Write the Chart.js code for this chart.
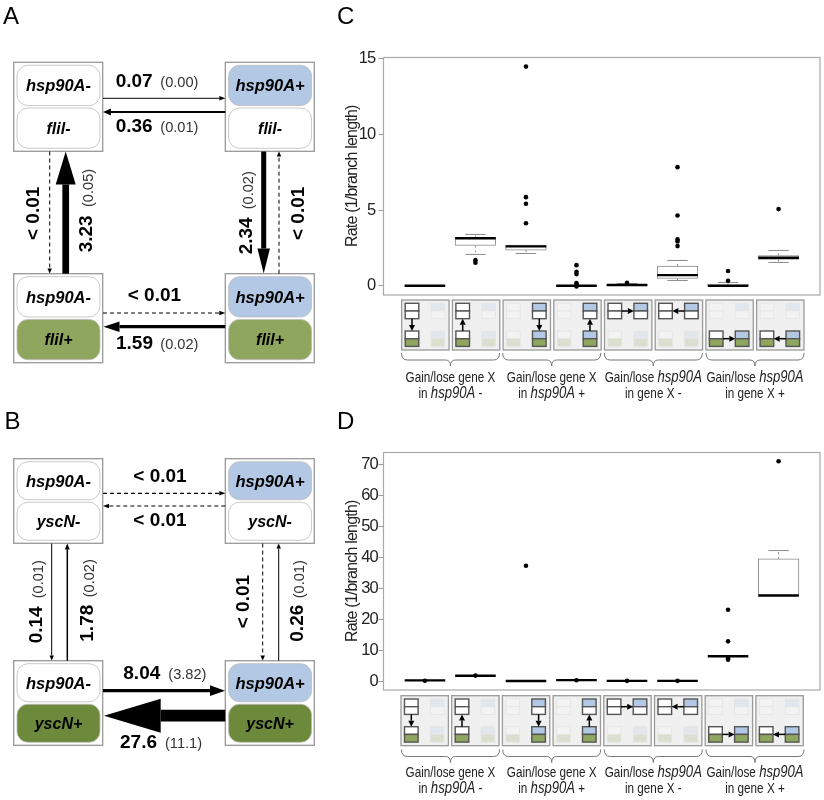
<!DOCTYPE html>
<html>
<head>
<meta charset="utf-8">
<title>Gene gain and loss rates</title>
<script src="https://cdn.jsdelivr.net/npm/chart.js@4/dist/chart.umd.min.js"></script>
<style>
    html, body { margin: 0; padding: 0; background: #fff; }
    #page { position: relative; width: 824px; height: 800px; overflow: hidden; }
    #page canvas { position: absolute; }
    #graphC { left: 330px; top: 50px; }
    #graphD { left: 330px; top: 445px; }
    #draw { position: absolute; left: 0; top: 0; pointer-events: none; }
</style>
</head>
<body>
<div id="page">
    <canvas id="graphC" width="494" height="250" style="width:494px;height:250px"></canvas>
    <canvas id="graphD" width="494" height="250" style="width:494px;height:250px"></canvas>
    <svg id="draw" width="824" height="800" xmlns="http://www.w3.org/2000/svg"></svg>
</div>
<script>
const categories = [1, 2, 3, 4, 5, 6, 7, 8];

// panel C
const ticksC = [0, 5, 10, 15];
const q1C = [0, 2.66, 2.35, 0, 0.03, 0.48, 0, 1.74];
const medC = [0, 3.14, 2.6, 0, 0.05, 0.7, 0, 1.85];
const q3C = [0, 3.19, 2.68, 0.03, 0.1, 1.3, 0.09, 2.0];
const lowC = [null, 2.07, 2.13, null, null, 0.35, null, 1.54];
const highC = [null, 3.39, null, null, 0.15, 1.67, 0.22, 2.33];
const outC = [
    [],
    [1.69, 1.52],
    [14.47, 5.85, 5.41, 4.13],
    [1.36, 0.92, 0.77, 0.18, 0.09, -0.05],
    [0.2],
    [7.83, 4.64, 3.06, 2.93, 2.62],
    [0.97, 0.33],
    [5.06]
];

// panel D
const ticksD = [0, 10, 20, 30, 40, 50, 60, 70];
const q1D = [0.2, 1.72, 0, 0.3, 0.05, 0.05, 8, 27.6];
const medD = [0.2, 1.72, 0, 0.3, 0.05, 0.05, 8, 27.6];
const q3D = [0.2, 1.72, 0, 0.3, 0.05, 0.05, 8, 39.4];
const lowD = [null, null, null, null, null, null, null, null];
const highD = [null, null, null, null, null, null, null, 42.1];
const outD = [
    [0.1],
    [1.75],
    [37.2],
    [0.25],
    [0.05],
    [0.05],
    [23, 12.8, 7.3, 6.9],
    [70.9]
];

const groupTitles = ["Gain/lose gene X", "Gain/lose gene X", "Gain/lose ", "Gain/lose "];

const SANS = '"Liberation Sans", Arial, sans-serif';

// frame around the plot, and tighter letters as the reference font is condensed
const plotBox = {
    id: 'plotBox',
    beforeDraw(chart) {
        chart.ctx.letterSpacing = '-0.8px';
    },
    afterDatasetsDraw(chart) {
        const a = chart.chartArea;
        const c = chart.ctx;
        c.save();
        c.strokeStyle = '#a9a9a9';
        c.lineWidth = 1.2;
        c.strokeRect(a.left, a.top, a.right - a.left, a.bottom - a.top);
        c.restore();
    }
};

function mkBoxChart(id, q1, med, q3, low, high, out, ticks, yMin, yMax, tickPad) {
    const whiskers = [];
    const caps = [];
    for (let i = 0; i < categories.length; i++) {
        const x = categories[i];
        if (high[i] !== null) {
            whiskers.push({x: x, y: q3[i]}, {x: x, y: high[i]}, {x: x, y: null});
            caps.push({x: x, y: high[i]});
        }
        if (low[i] !== null) {
            whiskers.push({x: x, y: q1[i]}, {x: x, y: low[i]}, {x: x, y: null});
            caps.push({x: x, y: low[i]});
        }
    }
    const points = [];
    for (let i = 0; i < categories.length; i++) {
        for (let k = 0; k < out[i].length; k++) {
            points.push({x: categories[i], y: out[i][k]});
        }
    }

    new Chart(document.getElementById(id), {
        type: 'bar',
        data: {
            datasets: [
                {
                    type: 'scatter',
                    data: points,
                    pointRadius: 2.3,
                    pointBackgroundColor: '#000',
                    pointBorderColor: '#000',
                    pointBorderWidth: 0
                },
                {
                    type: 'scatter',
                    data: categories.map((x, i) => ({x: x, y: med[i]})),
                    pointStyle: 'line',
                    pointRadius: 20.3,
                    pointBorderColor: '#000',
                    pointBorderWidth: 2.4
                },
                {
                    type: 'scatter',
                    data: caps,
                    pointStyle: 'line',
                    pointRadius: 10.2,
                    pointBorderColor: '#8a8a8a',
                    pointBorderWidth: 1
                },
                {
                    type: 'scatter',
                    data: whiskers,
                    showLine: true,
                    spanGaps: false,
                    pointRadius: 0,
                    borderColor: '#8a8a8a',
                    borderWidth: 1,
                    borderDash: [2, 3]
                },
                {
                    type: 'bar',
                    data: categories.map((x, i) => ({x: x, y: [q1[i], q3[i]]})),
                    barThickness: 40.7,
                    backgroundColor: '#fff',
                    borderColor: '#8a8a8a',
                    borderWidth: 1,
                    borderSkipped: false
                }
            ]
        },
        options: {
            responsive: false,
            animation: false,
            layout: {autoPadding: false, padding: {left: 0, right: 4, top: 7.5, bottom: 5}},
            plugins: {legend: {display: false}, tooltip: {enabled: false}},
            scales: {
                x: {
                    type: 'linear',
                    min: 0.18,
                    max: 8.82,
                    offset: false,
                    display: false
                },
                y: {
                    min: yMin,
                    max: yMax,
                    beginAtZero: false,
                    afterBuildTicks: (axis) => { axis.ticks = ticks.map(v => ({value: v})); },
                    afterFit: (axis) => {
                        axis.width = 53.5;
                        axis.paddingTop = 0;
                        axis.paddingBottom = 0;
                    },
                    grid: {drawOnChartArea: false, color: '#999', tickLength: 5},
                    border: {display: false},
                    ticks: {
                        color: '#222',
                        padding: tickPad,
                        font: {family: SANS, size: 16.5},
                        callback: (v) => String(v)
                    },
                    title: {
                        display: true,
                        text: 'Rate (1/branch length)',
                        color: '#222',
                        padding: {top: 13, bottom: 0},
                        font: {family: SANS, size: 16}
                    }
                }
            }
        },
        plugins: [plotBox]
    });
}

mkBoxChart('graphC', q1C, medC, q3C, lowC, highC, outC, ticksC, -0.61, 15.07, 3);
mkBoxChart('graphD', q1D, medD, q3D, lowD, highD, outD, ticksD, -2.9, 73.74, 0.5);

// the state diagrams and the small icons are plain svg
const svg = document.getElementById('draw');
const NS = 'http://www.w3.org/2000/svg';

function el(name, attrs, parent) {
    const e = document.createElementNS(NS, name);
    for (const k in attrs) {
        e.setAttribute(k, attrs[k]);
    }
    (parent || svg).appendChild(e);
    return e;
}

function txt(x, y, s, size, bold, italic, color, anchor, rot) {
    const a = {
        x: x, y: y,
        'font-family': SANS,
        'font-size': size,
        fill: color || '#000'
    };
    if (bold) a['font-weight'] = 'bold';
    if (italic) a['font-style'] = 'italic';
    if (anchor) a['text-anchor'] = anchor;
    if (rot) a.transform = 'rotate(' + rot + ' ' + x + ' ' + y + ')';
    const t = el('text', a);
    t.textContent = s;
    return t;
}

function arrow(x1, y1, x2, y2, w, hl, hw, dash) {
    const len = Math.hypot(x2 - x1, y2 - y1);
    const ux = (x2 - x1) / len;
    const uy = (y2 - y1) / len;
    const bx = x2 - ux * hl;
    const by = y2 - uy * hl;
    const a = {x1: x1, y1: y1, x2: bx, y2: by, stroke: '#000', 'stroke-width': w};
    if (dash) a['stroke-dasharray'] = dash;
    el('line', a);
    const px = -uy * hw / 2;
    const py = ux * hw / 2;
    el('polygon', {
        points: x2 + ',' + y2 + ' ' + (bx + px) + ',' + (by + py) + ' ' + (bx - px) + ',' + (by - py),
        fill: '#000'
    });
}

function stateBox(x, y, h, geneA, geneB, fillA, fillB) {
    const ph = (h - 8.5) / 2;
    el('rect', {x: x, y: y, width: 89, height: h, fill: '#fff', stroke: '#999', 'stroke-width': 1.3});
    el('rect', {x: x + 3.3, y: y + 3, width: 83, height: ph, rx: 11, fill: fillA, stroke: '#bdbdbd', 'stroke-width': 0.8});
    el('rect', {x: x + 3.3, y: y + 5.5 + ph, width: 83, height: ph, rx: 11, fill: fillB, stroke: '#bdbdbd', 'stroke-width': 0.8});
    txt(x + 44.8, y + 3 + ph / 2 + 6, geneA, 16.5, true, true, '#000', 'middle');
    txt(x + 44.8, y + 5.5 + ph * 1.5 + 5.5, geneB, 16, true, true, '#000', 'middle');
}

function rate(x, y, val, err, ex, rot) {
    txt(x, y, val, 19, true, false, '#000', null, rot);
    if (err) {
        if (rot) {
            txt(x + 1.2, ex, err, 14.6, false, false, '#333', null, rot);
        } else {
            txt(ex, y, err, 14.6, false, false, '#333');
        }
    }
}

const WHITE = '#ffffff';
const BLUE = '#b2c8e4';
const GREEN_A = '#8ea65e';
const GREEN_B = '#6d8a3c';
const GX = [13.7, 225.3];

// panel letters
txt(3, 24, 'A', 24);
txt(4.5, 429, 'B', 24);
txt(337, 24, 'C', 24);
txt(337, 429, 'D', 24);

// A
stateBox(GX[0], 62.3, 89, 'hsp90A-', 'flil-', WHITE, WHITE);
stateBox(GX[1], 62.3, 89, 'hsp90A+', 'flil-', BLUE, WHITE);
stateBox(GX[0], 273.7, 89, 'hsp90A-', 'flil+', WHITE, GREEN_A);
stateBox(GX[1], 273.7, 89, 'hsp90A+', 'flil+', BLUE, GREEN_A);

arrow(103, 98.3, 225.3, 98.3, 1, 6, 4.5);
arrow(225.3, 112, 103, 112, 2, 8, 7);
arrow(49.7, 151.5, 49.7, 273.5, 1, 5, 4.5, '4 3');
arrow(65.7, 273.7, 65.7, 151.5, 6.7, 33, 20);
arrow(263.7, 151.5, 263.7, 273.5, 5, 25, 12.5);
arrow(279, 273.7, 279, 151.5, 1, 5, 4.5, '4 3');
arrow(103, 313, 225.3, 313, 1, 6, 4.5, '4 3');
arrow(225.3, 326.7, 103.5, 326.7, 3.3, 16, 10.5);

rate(115.7, 87.3, '0.07', '(0.00)', 160.3);
rate(115.7, 132.3, '0.36', '(0.01)', 160.3);
rate(127.7, 301, '< 0.01');
rate(116, 349.3, '1.59', '(0.02)', 160.3);
rate(39.3, 240, '< 0.01', null, 0, -90);
rate(91.7, 252.3, '3.23', '(0.05)', 207, -90);
rate(251.7, 254.3, '2.34', '(0.02)', 209.3, -90);
rate(304.3, 240, '< 0.01', null, 0, -90);

// B
stateBox(GX[0], 458.7, 84.6, 'hsp90A-', 'yscN-', WHITE, WHITE);
stateBox(GX[1], 458.7, 84.6, 'hsp90A+', 'yscN-', BLUE, WHITE);
stateBox(GX[0], 660.7, 84.6, 'hsp90A-', 'yscN+', WHITE, GREEN_B);
stateBox(GX[1], 660.7, 84.6, 'hsp90A+', 'yscN+', BLUE, GREEN_B);

arrow(103, 493.3, 225.3, 493.3, 1.2, 6, 4.5, '4 3');
arrow(225.3, 506, 103, 506, 1.2, 6, 4.5, '4 3');
arrow(51.7, 543.5, 51.7, 660.5, 1, 5, 4.5);
arrow(67.3, 660.7, 67.3, 543.5, 1.5, 6, 5);
arrow(262.7, 543.5, 262.7, 660.5, 1, 5, 4.5, '4 3');
arrow(278.7, 660.7, 278.7, 543.5, 1, 5, 4.5);
arrow(103, 690.7, 225, 690.7, 3.3, 15, 10.7);
arrow(225.3, 715.7, 104, 715.7, 11.7, 56.7, 34);

rate(133.3, 482.3, '< 0.01');
rate(133.3, 526, '< 0.01');
rate(41.7, 643.3, '0.14', '(0.01)', 598.3, -90);
rate(93.3, 641.7, '1.78', '(0.02)', 597.3, -90);
rate(249.3, 628.3, '< 0.01', null, 0, -90);
rate(302.7, 641.7, '0.26', '(0.01)', 598.3, -90);
rate(123.3, 679, '8.04', '(3.82)', 168.3);
rate(120, 748.3, '27.6', '(11.1)', 165);

function miniBox(x, y, top, bottom, lit) {
    const g = el('g', {opacity: lit ? 1 : 0.22});
    el('rect', {x: x, y: y, width: 13.6, height: 7.7, fill: top, stroke: lit ? '#555' : '#bbb', 'stroke-width': lit ? 1.4 : 0.8}, g);
    el('rect', {x: x, y: y + 7.7, width: 13.6, height: 7.7, fill: bottom, stroke: lit ? '#555' : '#bbb', 'stroke-width': lit ? 1.4 : 0.8}, g);
}

// from, to: 0 top left, 1 top right, 2 bottom left, 3 bottom right
const iconMoves = [[0, 2], [2, 0], [1, 3], [3, 1], [0, 1], [1, 0], [2, 3], [3, 2]];

function mkIcons(x0, y0, green) {
    const mx = [3.5, 29.4, 3.5, 29.4];
    const my = [3.3, 3.3, 31, 31];
    const tops = [WHITE, BLUE, WHITE, BLUE];
    const bots = [WHITE, WHITE, green, green];
    for (let i = 0; i < 8; i++) {
        const x = x0 + i * 50.7;
        el('rect', {x: x, y: y0, width: 47.4, height: 50, fill: '#f0f0f0', stroke: '#9a9a9a', 'stroke-width': 1.3});
        const m = iconMoves[i];
        for (let s = 0; s < 4; s++) {
            miniBox(x + mx[s], y0 + my[s], tops[s], bots[s], s === m[0] || s === m[1]);
        }
        const f = m[0];
        const t = m[1];
        if (mx[f] === mx[t]) {
            const ax = x + mx[f] + 6.8;
            const up = my[t] < my[f];
            arrow(ax, up ? y0 + 31 : y0 + 18.7, ax, up ? y0 + 18.7 : y0 + 31, 1.5, 6, 6);
        } else {
            const ay = y0 + my[f] + 7.7;
            const right = mx[t] > mx[f];
            arrow(right ? x + 17.1 : x + 29.4, ay, right ? x + 29.4 : x + 17.1, ay, 1.5, 6, 6);
        }
    }
}

function mkBracket(x1, x2, y) {
    const cx = (x1 + x2) / 2;
    const d = 'M' + x1 + ',' + y + ' q0,7 6,7 L' + (cx - 5) + ',' + (y + 7) + ' q5,0 5,6 q0,-6 5,-6 L' + (x2 - 6) + ',' + (y + 7) + ' q6,0 6,-7';
    el('path', {d: d, fill: 'none', stroke: '#777', 'stroke-width': 1});
}

// Liberation has no narrow cut here, so the labels get squeezed sideways
function mkGroupLabel(cx, y1, y2, kind) {
    const base = {'text-anchor': 'middle', 'font-family': SANS, 'font-size': 14.3, fill: '#222'};
    const first = el('text', Object.assign({transform: 'translate(' + cx + ' ' + y1 + ') scale(0.82 1)'}, base));
    const second = el('text', Object.assign({transform: 'translate(' + cx + ' ' + y2 + ') scale(0.82 1)'}, base));
    function span(parent, s, it) {
        const t = el('tspan', it ? {'font-style': 'italic', 'font-size': 16} : {}, parent);
        t.textContent = s;
    }
    span(first, groupTitles[kind], false);
    if (kind < 2) {
        span(second, 'in ', false);
        span(second, 'hsp90A', true);
        span(second, kind === 0 ? ' -' : ' +', false);
    } else {
        span(first, 'hsp90A', true);
        span(second, kind === 2 ? 'in gene X -' : 'in gene X +', false);
    }
}

const groupCentres = [450.5, 551.7, 653.3, 755];

mkIcons(401.7, 300, GREEN_A);
mkIcons(401, 695.7, GREEN_A);
for (let g = 0; g < 4; g++) {
    const c = groupCentres[g];
    mkBracket(c - 49, c + 49, 353);
    mkBracket(c - 49, c + 49, 749.5);
    mkGroupLabel(c, 382, 398, g);
    mkGroupLabel(c, 777, 793, g);
}
</script>
</body>
</html>
